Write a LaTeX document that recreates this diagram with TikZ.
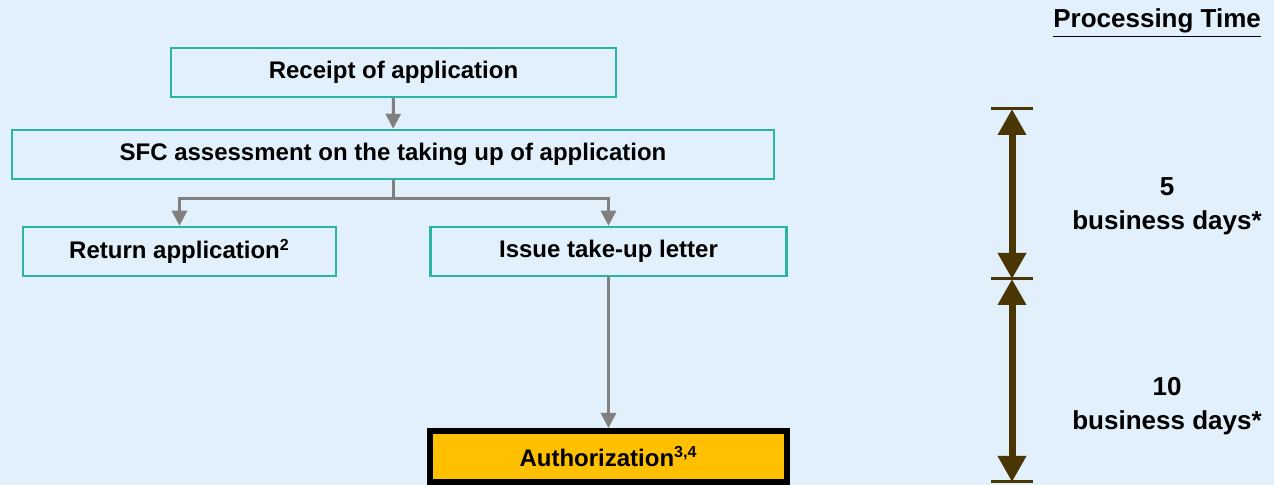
\documentclass[tikz,border=0pt]{standalone}
\usepackage{fontspec}
\setmainfont{Liberation Sans}
\usetikzlibrary{arrows.meta}

\definecolor{bgblue}{HTML}{E1F0FA}
\definecolor{boxteal}{HTML}{2BB3A3}
\definecolor{linegray}{HTML}{808080}
\definecolor{timebrown}{HTML}{4A3504}
\definecolor{authgold}{HTML}{FFC000}

\begin{document}
\begin{tikzpicture}[x=0.5pt,y=-0.5pt,
    stage/.style={draw=boxteal,line width=1.25pt,minimum height=24.5pt,inner sep=0pt,
      font=\fontsize{12}{14}\selectfont\bfseries},
    flow/.style={draw=linegray,line width=1.5pt,-{Triangle[length=7.5pt,width=7.5pt]}},
    span/.style={draw=timebrown,line width=3.5pt,
      {Triangle[length=13pt,width=13.5pt]}-{Triangle[length=13pt,width=13.5pt]}},
    tick/.style={draw=timebrown,line width=1.5pt},
    daytext/.style={font=\fontsize{13}{17}\selectfont\bfseries,align=center}]
    \fill[bgblue] (0,0) rectangle (1274,485);
    \useasboundingbox (0,0) rectangle (1274,485);

    % steps of the procedure
    \node[stage,minimum width=222.5pt] (receipt) at (393.5,72.5) {Receipt of application};
    \node[stage,minimum width=381pt] (assess) at (393,154.5) {SFC assessment on the taking up of application};
    \node[stage,minimum width=156.5pt] (return) at (179.5,251.5) {Return application\textsuperscript{2}};
    \node[stage,minimum width=178pt] (takeup) at (608.5,251.5) {Issue take-up letter};
    \node[draw=black,line width=3pt,fill=authgold,minimum width=178.5pt,minimum height=25.5pt,
      inner sep=0pt,font=\fontsize{12}{14}\selectfont\bfseries] (auth) at (608.5,456.5) {Authorization\textsuperscript{3,4}};

    \coordinate (split) at (393,199);
    \draw[flow] (receipt) -- (assess);
    \draw[flow] (assess.south) -- (split) -| (return.north);
    \draw[flow] (split) -| (takeup.north);
    \draw[flow] (takeup) -- (auth);

    % processing time
    \node[font=\fontsize{13}{17}\selectfont\bfseries,anchor=east] (header) at (1268,23) {\underline{Processing Time}};
    \coordinate (t0) at (1012,109);
    \coordinate (t1) at (1012,279);
    \coordinate (t2) at (1012,482);
    \foreach \t in {t0,t1,t2}
      \draw[tick] ([xshift=-10.5pt]\t) -- ([xshift=10.5pt]\t);
    \draw[span] (t0) -- (t1);
    \draw[span] (t1) -- (t2);
    \node[daytext] (first) at (1167,206) {5\\business days*};
    \node[daytext] (second) at (1167,406) {10\\business days*};
\end{tikzpicture}
\end{document}
